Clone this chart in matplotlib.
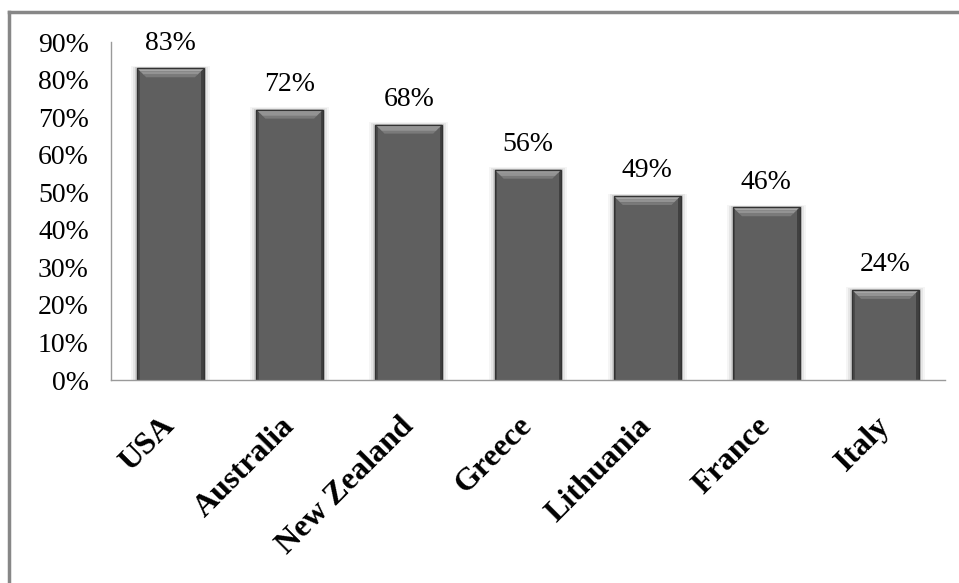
import matplotlib.pyplot as plt
import numpy as np
from matplotlib.patches import Polygon, Rectangle
from matplotlib.lines import Line2D

countries = ["USA", "Australia", "New Zealand", "Greece", "Lithuania", "France", "Italy"]
shares = [83, 72, 68, 56, 49, 46, 24]
yticks = [0, 10, 20, 30, 40, 50, 60, 70, 80, 90]

W, H = 959, 583
fig = plt.figure(figsize=(W / 100, H / 100), dpi=100)
ax = fig.add_axes([111 / W, 1 - 380 / H, (945 - 111) / W, (380 - 42) / H])

serif = ["Liberation Serif", "DejaVu Serif"]
bar_w = 0.56
x = np.arange(len(countries))

# pixel -> data conversion for the bevel and shadow
px_x = (len(countries)) / (945 - 111)
px_y = 90 / (380 - 42)

for xi, v in zip(x, shares):
    left, right = xi - bar_w / 2, xi + bar_w / 2
    # soft shadow
    for k, a in [(6, 0.04), (4, 0.06), (2, 0.10)]:
        ax.add_patch(Rectangle((left - k * px_x, 0), bar_w + 2 * k * px_x, v + k * 0.4 * px_y,
                               facecolor="black", alpha=a, lw=0, zorder=1))
    ax.add_patch(Rectangle((left, 0), bar_w, v, facecolor="#5f5f5f",
                           edgecolor="none", zorder=2))
    # side shading
    ax.add_patch(Rectangle((left, 0), 2.5 * px_x, v, facecolor="#4a4a4a", lw=0, zorder=2.1))
    ax.add_patch(Rectangle((right - 2.5 * px_x, 0), 2.5 * px_x, v, facecolor="#404040", lw=0, zorder=2.1))
    # bevelled top, lighter towards the edge
    bh, inset = 9 * px_y, 9 * px_x
    steps = [("#a6a6a6", 0.0, 0.35), ("#939393", 0.35, 0.7), ("#7a7a7a", 0.7, 1.0)]
    for col, f0, f1 in steps:
        ax.add_patch(Polygon([(left + inset * f0, v - bh * f0), (right - inset * f0, v - bh * f0),
                              (right - inset * f1, v - bh * f1), (left + inset * f1, v - bh * f1)],
                             closed=True, facecolor=col, edgecolor="none", zorder=2.2))
    ax.add_patch(Rectangle((left, 0), bar_w, v, facecolor="none",
                           edgecolor="#333333", lw=1.0, zorder=2.4))
    ax.annotate(f"{v}%", (xi, v), xytext=(0, 9), textcoords="offset points",
                ha="center", va="bottom", fontsize=20, family=serif, color="black")

ax.set_xlim(-0.5, len(countries) - 0.5)
ax.set_ylim(0, 90)
ax.set_yticks(yticks)
ax.set_yticklabels([f"{t}%" for t in yticks], fontsize=20, family=serif)
ax.set_xticks(x)
ax.set_xticklabels(countries, rotation=45, ha="right", va="center",
                   rotation_mode="anchor", fontsize=23, fontweight="bold", family=serif)
ax.tick_params(axis="y", length=0, pad=16)
ax.tick_params(axis="x", length=0, pad=30)

for s in ["top", "right"]:
    ax.spines[s].set_visible(False)
for s in ["left", "bottom"]:
    ax.spines[s].set_color("#9a9a9a")
    ax.spines[s].set_linewidth(1)

# chart frame
fig.add_artist(Line2D([9 / W, 1], [1 - 12 / H, 1 - 12 / H], color="#878787", lw=2.5,
                      transform=fig.transFigure))
fig.add_artist(Line2D([9 / W, 9 / W], [0, 1 - 12 / H], color="#878787", lw=2.5,
                      transform=fig.transFigure))

fig.savefig("out.png", dpi=100)
